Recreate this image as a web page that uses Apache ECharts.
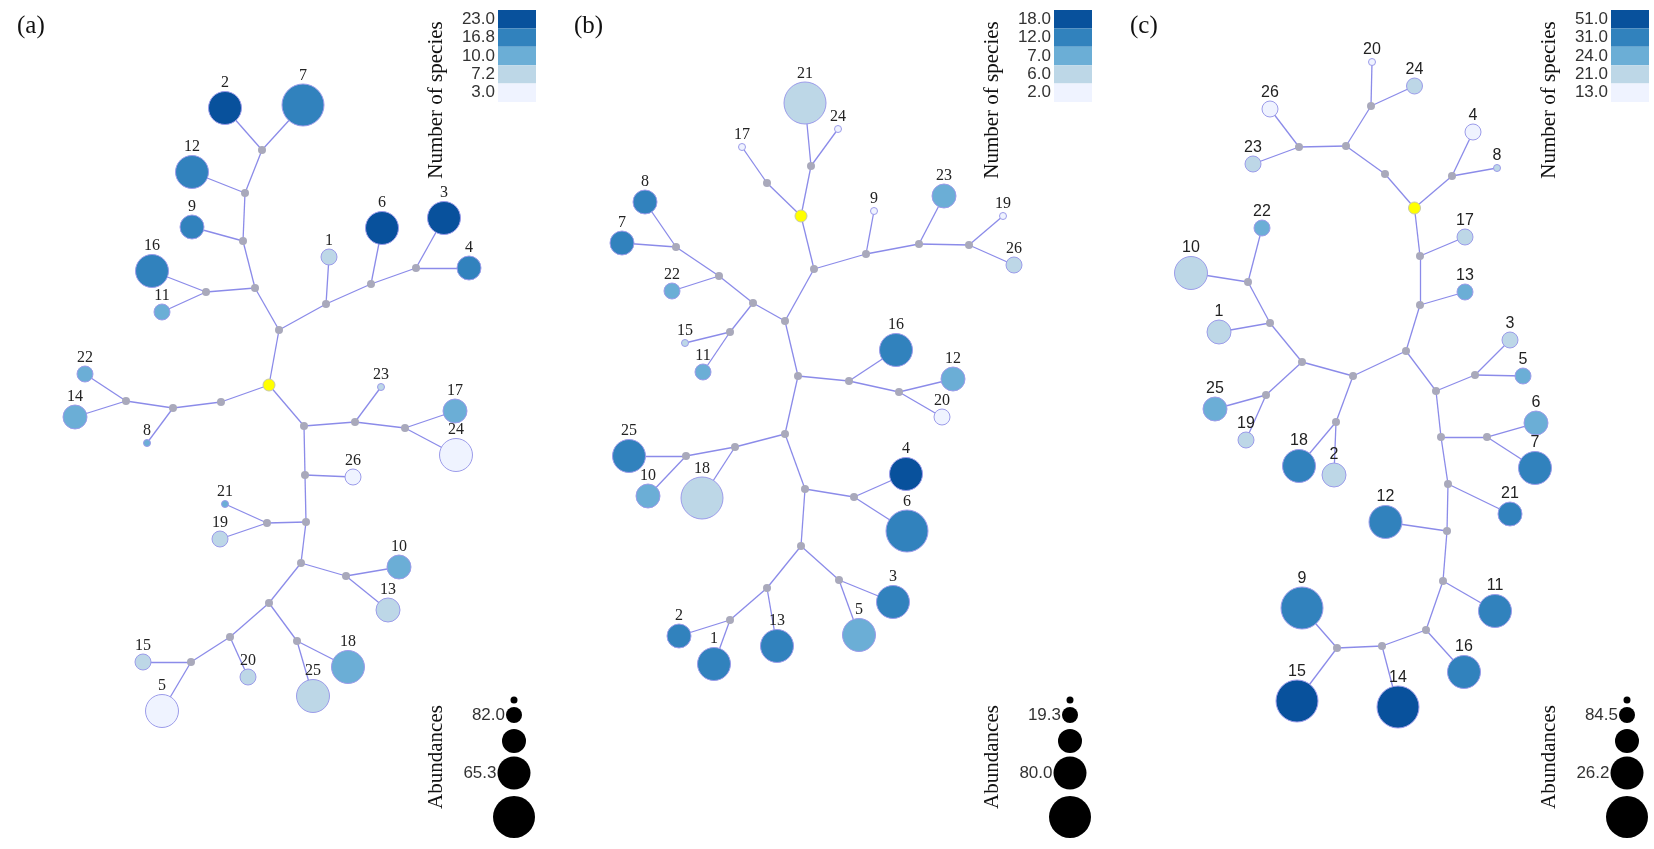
<!DOCTYPE html>
<html><head><meta charset="utf-8">
<script src="https://cdn.jsdelivr.net/npm/echarts@6/dist/echarts.min.js"></script>
<style>html,body{margin:0;padding:0;background:#fff}#c{width:1654px;height:849px}</style>
</head><body><div id="c"></div>
<script>
// ---------- Panel (a) ----------
// [label, x, y, speciesClass(1-5), abundanceClass(1-5)]
const otuA = [
 ['1',329,257,2,2],['2',225,108,5,4],['3',444,218,5,4],['4',469,268,4,3],['5',162,711,1,4],
 ['6',382,228,5,4],['7',303,105,4,5],['8',147,443,3,1],['9',192,227,4,3],['10',399,567,3,3],
 ['11',162,312,3,2],['12',192,172,4,4],['13',388,610,2,3],['14',75,417,3,3],['15',143,662,2,2],
 ['16',152,271,4,4],['17',455,411,3,3],['18',348,667,3,4],['19',220,539,2,2],['20',248,677,2,2],
 ['21',225,504,3,1],['22',85,374,3,2],['23',381,387,2,1],['24',456,455,1,4],['25',313,696,2,4],
 ['26',353,477,1,2]
];
const hubA = [['R',269,385],['J1',262,150],['J2',245,193],['J3',243,241],['J4',206,292],['J5',255,288],
 ['J6',279,330],['J7',326,304],['J8',371,284],['J9',416,268],['J10',126,401],['J11',173,408],['J12',221,402],
 ['J13',355,422],['J14',304,426],['J15',405,428],['J16',305,475],['J17',267,523],['J18',306,522],
 ['J19',301,563],['J20',346,576],['J21',269,603],['J22',230,637],['J23',297,641],['J24',191,662]];
const edgesA = [['J1','2'],['J1','7'],['J2','J1'],['J2','12'],['J3','J2'],['J3','9'],['J5','J3'],['J4','J5'],
 ['J4','16'],['J4','11'],['J6','J5'],['J6','J7'],['J7','1'],['J7','J8'],['J8','6'],['J8','J9'],['J9','3'],
 ['J9','4'],['R','J6'],['R','J12'],['J12','J11'],['J11','J10'],['J10','22'],['J10','14'],['J11','8'],
 ['R','J14'],['J14','J13'],['J13','23'],['J13','J15'],['J15','17'],['J15','24'],['J14','J16'],['J16','26'],
 ['J16','J18'],['J18','J17'],['J17','21'],['J17','19'],['J18','J19'],['J19','J20'],['J20','10'],['J20','13'],
 ['J19','J21'],['J21','J22'],['J22','J24'],['J24','15'],['J24','5'],['J22','20'],['J21','J23'],['J23','25'],['J23','18']];
const speciesLabelsA = ['3.0','7.2','10.0','16.8','23.0'];
const abundLabelsA = ['','82.0','','65.3',''];

// ---------- Panel (b) ----------
const otuB = [
 ['1',174,664,4,4],['2',139,636,4,3],['3',353,602,4,4],['4',366,474,5,4],['5',319,635,3,4],
 ['6',367,531,4,5],['7',82,243,4,3],['8',105,202,4,3],['9',334,211,1,1],['10',108,496,3,3],
 ['11',163,372,3,2],['12',413,379,3,3],['13',237,646,4,4],['15',145,343,2,1],['16',356,350,4,4],
 ['17',202,147,1,1],['18',162,498,2,5],['19',463,216,1,1],['20',402,417,1,2],['21',265,103,2,5],
 ['22',132,291,3,2],['23',404,196,3,3],['24',298,129,1,1],['25',89,456,4,4],['26',474,265,2,2]
];
const hubB = [['R',261,216],['J1',271,166],['J2',227,183],['J3',379,244],['J4',429,245],['J5',326,254],
 ['J6',274,269],['J7',136,247],['J8',179,276],['J9',213,303],['J10',245,321],['J11',190,332],['J12',258,376],
 ['J13',309,381],['J14',359,392],['J15',245,434],['J16',195,447],['J17',146,456],['J18',265,489],
 ['J19',314,497],['J20',261,546],['J21',299,580],['J22',227,588],['J23',190,620]];
const edgesB = [['R','J2'],['J2','17'],['R','J1'],['J1','21'],['J1','24'],['R','J6'],['J6','J5'],['J5','9'],
 ['J5','J3'],['J3','23'],['J3','J4'],['J4','19'],['J4','26'],['J6','J10'],['J10','J9'],['J9','J8'],['J8','J7'],
 ['J7','8'],['J7','7'],['J8','22'],['J9','J11'],['J11','15'],['J11','11'],['J10','J12'],['J12','J13'],
 ['J13','16'],['J13','J14'],['J14','12'],['J14','20'],['J12','J15'],['J15','J16'],['J16','J17'],['J17','25'],
 ['J17','10'],['J16','18'],['J15','J18'],['J18','J19'],['J19','4'],['J19','6'],['J18','J20'],['J20','J21'],
 ['J21','3'],['J21','5'],['J20','J22'],['J22','J23'],['J23','2'],['J23','1'],['J22','13']];
const speciesLabelsB = ['2.0','6.0','7.0','12.0','18.0'];
const abundLabelsB = ['','19.3','','80.0',''];

// ---------- Panel (c) ----------
const otuC = [
 ['1',119,332,2,3],['2',234,475,2,3],['3',410,340,2,2],['4',373,132,1,2],['5',423,376,3,2],
 ['6',436,423,3,3],['7',435,468,4,4],['8',397,168,2,1],['9',202,608,4,5],['10',91,273,2,4],
 ['11',395,611,4,4],['12',285.5,522,4,4],['13',365,292,3,2],['14',298,707,5,5],['15',197,701,5,5],
 ['16',364,672,4,4],['17',365,237,2,2],['18',199,466,4,4],['19',146,440,2,2],['20',272,62,1,1],
 ['21',410,514,4,3],['22',162,228,3,2],['23',153,164,2,2],['24',314.5,86,2,2],['25',115,409,3,3],
 ['26',170,109,1,2]
];
const hubC = [['R',314.5,208],['J1',271,106],['J2',246,146],['J3',199,147],['J4',285,174],['J5',352,176],
 ['J6',320,256],['J7',148,282],['J8',320,305],['J9',170,323],['J10',306,351],['J11',202,362],['J12',375,375],
 ['J13',253,376],['J14',336,391],['J15',166,395],['J16',236,422],['J17',341,437],['J18',387,437],
 ['J19',348,484],['J20',347,531],['J21',343,581],['J22',326,630],['J23',282,646],['J24',237,648]];
const edgesC = [['R','J4'],['J4','J2'],['J2','J1'],['J1','20'],['J1','24'],['J2','J3'],['J3','26'],['J3','23'],
 ['R','J5'],['J5','4'],['J5','8'],['R','J6'],['J6','17'],['J6','J8'],['J8','13'],['J8','J10'],['J10','J13'],
 ['J13','J11'],['J11','J9'],['J9','J7'],['J7','22'],['J7','10'],['J9','1'],['J11','J15'],['J15','25'],
 ['J15','19'],['J13','J16'],['J16','18'],['J16','2'],['J10','J14'],['J14','J12'],['J12','3'],['J12','5'],
 ['J14','J17'],['J17','J18'],['J18','6'],['J18','7'],['J17','J19'],['J19','21'],['J19','J20'],['J20','12'],
 ['J20','J21'],['J21','11'],['J21','J22'],['J22','16'],['J22','J23'],['J23','14'],['J23','J24'],['J24','9'],['J24','15']];
const speciesLabelsC = ['13.0','21.0','24.0','31.0','51.0'];
const abundLabelsC = ['','84.5','','26.2',''];

// ---------- styling / layout ----------
const BLUES = ['#eff3ff','#bdd7e7','#6baed6','#3182bd','#08519c'];
const SIZES = [7, 16, 24, 33, 42];            // symbol diameter per abundance class
const LEG_Y = [700, 715, 741, 773, 817];      // size-legend circle centres
const H = 849;
const panels = [
  {otu: otuA, hub: hubA, edges: edgesA, sp: speciesLabelsA, ab: abundLabelsA, left: 0,    width: 540, font: 'Liberation Serif', letter: '(a)', legX: 514, lx: 17},
  {otu: otuB, hub: hubB, edges: edgesB, sp: speciesLabelsB, ab: abundLabelsB, left: 540,  width: 560, font: 'Liberation Serif', letter: '(b)', legX: 530, lx: 34},
  {otu: otuC, hub: hubC, edges: edgesC, sp: speciesLabelsC, ab: abundLabelsC, left: 1100, width: 554, font: 'Liberation Sans',  letter: '(c)', legX: 527, lx: 30}
];

const grid = [], xAxis = [], yAxis = [], series = [], visualMap = [], graphic = [];
panels.forEach((p, i) => {
  grid.push({left: p.left, top: 0, width: p.width, height: H, show: false});
  xAxis.push({type: 'value', gridIndex: i, min: 0, max: p.width, show: false});
  yAxis.push({type: 'value', gridIndex: i, min: 0, max: H, inverse: true, show: false});
  const pos = {};
  p.otu.forEach(d => pos[d[0]] = [d[1], d[2]]);
  p.hub.forEach(d => pos[d[0]] = [d[1], d[2]]);
  // edges
  series.push({
    type: 'lines', coordinateSystem: 'cartesian2d', xAxisIndex: i, yAxisIndex: i, silent: true, z: 1,
    lineStyle: {color: '#8b8be9', width: 1.3, opacity: 1},
    data: p.edges.map(e => ({coords: [pos[e[0]], pos[e[1]]]}))
  });
  // junction nodes
  series.push({
    type: 'scatter', xAxisIndex: i, yAxisIndex: i, silent: true, z: 2, symbolSize: 8,
    itemStyle: {color: '#a9a9bb', opacity: 1},
    data: p.hub.filter(h => h[0] !== 'R').map(h => [h[1], h[2]])
  });
  // root node
  series.push({
    type: 'scatter', xAxisIndex: i, yAxisIndex: i, silent: true, z: 3, symbolSize: 12,
    itemStyle: {color: '#ffff00', borderColor: '#c9c9a8', borderWidth: 1, opacity: 1},
    data: p.hub.filter(h => h[0] === 'R').map(h => [h[1], h[2]])
  });
  // OTU nodes
  const otuIndex = series.length;
  series.push({
    type: 'scatter', xAxisIndex: i, yAxisIndex: i, silent: true, z: 4,
    symbolSize: v => SIZES[v[3] - 1],
    itemStyle: {borderColor: '#9c9cea', borderWidth: 1, opacity: 1},
    label: {show: true, position: 'top', distance: 0, formatter: '{b}', color: '#222',
            fontFamily: p.font, fontSize: 16, lineHeight: 16},
    data: p.otu.map(d => ({name: d[0], value: [d[1], d[2], d[3], d[4]]}))
  });
  // abundance legend
  series.push({
    type: 'scatter', xAxisIndex: i, yAxisIndex: i, silent: true, z: 4,
    symbolSize: v => SIZES[v[2]],
    itemStyle: {color: '#000', opacity: 1},
    label: {show: true, position: 'left', distance: 1, color: '#333', fontFamily: 'Liberation Sans', fontSize: 17,
            formatter: prm => p.ab[prm.data[2]]},
    data: LEG_Y.map((y, k) => [p.legX, y, k])
  });
  visualMap.push({
    type: 'piecewise', seriesIndex: otuIndex, dimension: 2, orient: 'vertical',
    right: 1654 - (p.left + p.legX + 22), top: 10, padding: 0,
    itemSymbol: 'rect', itemWidth: 38, itemHeight: 18.4, itemGap: 0, textGap: 3, align: 'right',
    selectedMode: false, hoverLink: false,
    textStyle: {color: '#333', fontSize: 17, fontFamily: 'Liberation Sans'},
    pieces: p.sp.map((lab, k) => ({value: k + 1, label: lab, color: BLUES[k]}))
  });
  graphic.push({type: 'text', left: p.left + p.lx, top: 14,
    style: {text: p.letter, font: '25px "Liberation Serif"', fill: '#111'}});
  graphic.push({type: 'text', x: p.left + p.legX - 78, y: 100, rotation: Math.PI / 2,
    style: {text: 'Number of species', font: '21px "Liberation Serif"', fill: '#111', align: 'center', verticalAlign: 'middle'}});
  graphic.push({type: 'text', x: p.left + p.legX - 78, y: 757, rotation: Math.PI / 2,
    style: {text: 'Abundances', font: '21px "Liberation Serif"', fill: '#111', align: 'center', verticalAlign: 'middle'}});
});

const chart = echarts.init(document.getElementById('c'), null, {renderer: 'canvas'});
chart.setOption({backgroundColor: '#fff', animation: false, grid, xAxis, yAxis, series, visualMap, graphic});
</script>
</body></html>
